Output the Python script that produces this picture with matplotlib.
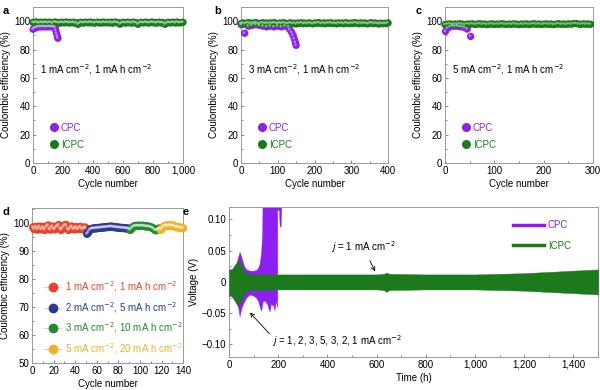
import numpy as np
import matplotlib
matplotlib.use("Agg")
import matplotlib.pyplot as plt
from matplotlib.lines import Line2D
from matplotlib.ticker import MultipleLocator, FuncFormatter
import matplotlib.transforms as mtransforms

plt.rcParams['font.family'] = ['Liberation Sans', 'DejaVu Sans']
plt.rcParams['font.size'] = 7
plt.rcParams['axes.edgecolor'] = '#9a9a9a'
plt.rcParams['axes.linewidth'] = 0.7

# colours
purple = '#8e1ff2'
green = '#1c7a1c'
red = '#e8432a'
blue = '#2b3a94'
dgreen = '#218a2c'
orange = '#f4b024'

# ---- panel a: 1 mA cm-2, 1 mA h cm-2 ----
a_icpc_cycle = np.arange(0, 1001, 10)
a_icpc_ce = [99.2, 98.8, 99.5, 99.0, 98.6, 99.3, 99.1, 98.7, 99.4, 99.0,
             98.8, 99.3, 99.0, 98.5, 99.2, 99.4, 98.9, 99.1, 98.6, 99.3,
             99.0, 98.8, 99.4, 99.1, 98.7, 99.2, 98.9, 99.3, 98.6, 99.0,
             97.8, 98.4, 99.2, 99.0, 98.7, 99.3, 99.1, 98.8, 99.4, 98.9,
             99.2, 98.6, 99.0, 99.3, 98.8, 99.1, 98.7, 99.4, 99.0, 98.9,
             99.2, 98.8, 99.3, 98.6, 99.1, 99.4, 98.9, 99.0, 97.9, 98.5,
             99.2, 99.0, 98.7, 99.3, 98.9, 99.1, 98.6, 99.4, 99.0, 98.8,
             97.8, 98.6, 99.2, 99.0, 98.8, 99.3, 99.1, 98.7, 99.0, 99.4,
             98.9, 99.2, 98.6, 99.0, 99.3, 98.8, 99.1, 98.7, 97.8, 98.5,
             99.2, 99.0, 98.8, 99.3, 99.1, 98.7, 99.4, 99.0, 98.8, 99.1, 99.2]
a_cpc_cycle = [1, 10, 20, 30, 40, 50, 60, 70, 80, 90, 100, 110, 120, 130,
               140, 148, 152, 157, 162, 166]
a_cpc_ce = [94.3, 95.0, 95.5, 96.0, 96.0, 96.2, 96.0, 96.3, 96.0, 96.2,
            96.0, 96.3, 96.0, 96.2, 96.0, 95.5, 93.5, 91.5, 89.5, 88.0]

# ---- panel b: 3 mA cm-2 ----
b_icpc_cycle = np.arange(0, 401, 5)
b_icpc_ce = [98.3, 98.8, 98.0, 98.6, 99.0, 98.2, 98.7, 98.4, 99.1, 98.5,
             98.0, 98.6, 98.9, 98.3, 98.7, 98.1, 98.8, 98.4, 99.0, 98.5,
             98.2, 98.7, 98.3, 98.9, 98.6, 98.1, 98.5, 98.8, 98.3, 98.6,
             98.0, 98.7, 98.4, 98.9, 98.2, 98.6, 98.3, 98.8, 98.5, 98.1,
             98.7, 98.4, 99.0, 98.6, 98.3, 98.8, 98.2, 98.7, 98.5, 98.9,
             98.3, 98.6, 98.1, 98.8, 98.4, 98.7, 98.2, 98.9, 98.5, 98.3,
             98.7, 98.4, 99.0, 98.6, 98.2, 98.8, 98.3, 98.7, 98.5, 98.1,
             98.6, 98.9, 98.3, 98.7, 98.4, 98.0, 98.6, 98.2, 98.5, 98.3, 98.8]
b_cpc_cycle = [1, 10, 20, 30, 40, 50, 60, 70, 80, 90, 100, 110, 120, 130,
               133, 138, 142, 145, 148, 150]
b_cpc_ce = [97.5, 91.5, 96.5, 97.0, 97.5, 97.0, 96.5, 96.0, 96.5, 96.0,
            96.5, 96.0, 96.5, 96.0, 94.0, 92.0, 90.0, 87.5, 85.0, 83.0]

# ---- panel c: 5 mA cm-2 ----
c_icpc_cycle = np.arange(0, 296, 5)
c_icpc_ce = [97.6, 97.9, 98.1, 97.7, 98.0, 97.8, 98.2, 97.9, 97.6, 98.0,
             97.8, 98.1, 97.7, 97.9, 98.2, 97.8, 98.0, 97.6, 97.9, 98.1,
             97.7, 98.0, 97.8, 98.2, 97.9, 97.7, 98.0, 97.8, 98.1, 97.9,
             97.6, 98.0, 97.8, 98.1, 97.7, 97.9, 98.2, 97.8, 98.0, 97.7,
             97.9, 98.1, 97.8, 98.0, 97.6, 97.9, 98.2, 97.8, 98.0, 97.7,
             98.1, 97.9, 98.2, 98.4, 98.0, 97.8, 98.1, 97.9, 98.0, 97.8]
c_cpc_cycle = [1, 5, 10, 15, 20, 25, 30, 35, 40, 45, 52]
c_cpc_ce = [92.8, 95.0, 96.0, 96.5, 96.5, 96.5, 96.2, 96.0, 95.5, 94.5, 89.3]

# ---- panel d: rate steps ----
d_labels = [r'1 mA cm$^{-2}$, 1 mA h cm$^{-2}$',
            r'2 mA cm$^{-2}$, 5 mA h cm$^{-2}$',
            r'3 mA cm$^{-2}$, 10 mA h cm$^{-2}$',
            r'5 mA cm$^{-2}$, 20 mA h cm$^{-2}$']
d_cycles = [np.arange(1, 51), np.arange(51, 91), np.arange(91, 119), np.arange(119, 141)]
d_ce1 = [98.6, 97.9, 98.4, 98.8, 97.7, 98.3, 98.9, 98.0, 97.8, 98.7,
         98.2, 97.6, 98.5, 99.0, 99.3, 98.1, 97.7, 98.6, 98.9, 98.0,
         97.8, 98.4, 98.8, 99.2, 99.4, 98.3, 97.6, 98.0, 98.7, 99.1,
         99.5, 99.3, 98.2, 97.6, 97.9, 98.6, 98.9, 98.1, 97.8, 98.4,
         98.7, 98.0, 97.9, 98.5, 98.8, 98.1, 97.8, 98.3, 98.6, 98.2]
d_ce2 = [96.2, 96.6, 97.3, 97.8, 98.0, 98.1, 98.2, 98.1, 98.3, 98.2,
         98.4, 98.3, 98.4, 98.5, 98.4, 98.6, 98.5, 98.6, 98.7, 98.6,
         98.8, 98.7, 98.9, 98.7, 98.8, 98.6, 98.7, 98.5, 98.6, 98.4,
         98.5, 98.4, 98.3, 98.4, 98.3, 98.2, 98.3, 98.1, 98.2, 98.0]
d_ce3 = [97.6, 98.0, 98.5, 98.8, 99.0, 99.1, 99.0, 99.2, 99.1, 99.0,
         99.1, 99.2, 99.1, 99.0, 98.9, 99.0, 98.8, 98.9, 98.7, 98.6,
         98.5, 98.3, 98.0, 97.6, 97.5, 97.7, 98.0, 98.2]
d_ce4 = [97.6, 97.9, 98.4, 98.8, 99.1, 99.2, 99.3, 99.0, 99.2, 99.4,
         99.1, 99.0, 99.3, 98.9, 98.7, 98.5, 98.8, 98.6, 98.4, 98.2, 98.5, 98.3]
d_ces = [d_ce1, d_ce2, d_ce3, d_ce4]
d_colors = [red, blue, dgreen, orange]

# ---- panel e: voltage envelopes ----
e_icpc_t = [0, 5, 10, 15, 20, 25, 30, 35, 40, 45, 50, 55, 60, 65, 70, 80, 100,
            200, 400, 600, 630, 640, 650, 800, 1000, 1100, 1200, 1300, 1400, 1500]
e_icpc_hi = [0.02, 0.02, 0.018, 0.02, 0.025, 0.028, 0.03, 0.034, 0.036, 0.03,
             0.027, 0.022, 0.018, 0.016, 0.014, 0.013, 0.012, 0.012, 0.012, 0.012,
             0.013, 0.015, 0.013, 0.012, 0.012, 0.013, 0.014, 0.016, 0.018, 0.02]
e_icpc_lo = [-0.022, -0.022, -0.02, -0.022, -0.027, -0.03, -0.033, -0.036, -0.04, -0.033,
             -0.028, -0.024, -0.02, -0.017, -0.015, -0.014, -0.013, -0.012, -0.012, -0.012,
             -0.013, -0.016, -0.013, -0.012, -0.012, -0.013, -0.014, -0.016, -0.018, -0.02]
e_cpc_t = [0, 8, 16, 23, 30, 37, 43, 50, 57, 63, 70, 84, 100, 110, 118, 125, 131,
           135, 138, 145, 155, 160, 165, 170, 180, 185, 190, 196]
e_cpc_hi = [0.02, 0.02, 0.022, 0.026, 0.03, 0.04, 0.048, 0.04, 0.03, 0.024, 0.02,
            0.018, 0.018, 0.019, 0.022, 0.03, 0.05, 0.08, 0.2, 0.2, 0.2, 0.2, 0.2,
            0.2, 0.2, 0.2, 0.2, 0.2]
e_cpc_lo = [-0.022, -0.022, -0.026, -0.03, -0.035, -0.04, -0.055, -0.042, -0.035, -0.03,
            -0.025, -0.02, -0.022, -0.025, -0.03, -0.04, -0.046, -0.035, -0.03, -0.03,
            -0.035, -0.042, -0.047, -0.035, -0.038, -0.045, -0.03, -0.04]
e_spike_t = [196, 203, 206, 210, 212]
e_spike_lo = [0.115, 0.115, 0.088, 0.09, 0.115]


def comma(v, pos):
    return '{:,.0f}'.format(v)


def style(ax):
    ax.tick_params(which='both', direction='in', length=2.5, width=0.6,
                   color='#777777', labelsize=7, pad=2)
    ax.tick_params(which='minor', length=1.5)


def balls(ax, x, y, c, s=20):
    ax.scatter(x, y, s=s, color=c, edgecolors='none', zorder=3, clip_on=False)
    off = mtransforms.offset_copy(ax.transData, fig=fig, x=-0.5, y=0.5, units='points')
    ax.scatter(x, y, s=s * 0.12, color='white', alpha=0.45, edgecolors='none',
               zorder=4, transform=off, clip_on=False)


fig = plt.figure(figsize=(6, 3.9), dpi=100)

top_axes = []
for left, width in [(0.055, 0.25), (0.4017, 0.245), (0.7417, 0.2467)]:
    top_axes.append(fig.add_axes([left, 0.582, width, 0.4]))

ce_sets = [(a_icpc_cycle, a_icpc_ce, a_cpc_cycle, a_cpc_ce, 1000, 200, 100, '1'),
           (b_icpc_cycle, b_icpc_ce, b_cpc_cycle, b_cpc_ce, 400, 100, 50, '3'),
           (c_icpc_cycle, c_icpc_ce, c_cpc_cycle, c_cpc_ce, 300, 100, 50, '5')]

for ax, (xi, yi, xc, yc, xmax, maj, mnr, rate) in zip(top_axes, ce_sets):
    balls(ax, xc, yc, purple, s=28)
    balls(ax, xi, yi, green, s=28)
    ax.set_xlim(0, xmax)
    ax.set_ylim(0, 110)
    ax.xaxis.set_major_locator(MultipleLocator(maj))
    ax.xaxis.set_minor_locator(MultipleLocator(mnr))
    ax.xaxis.set_major_formatter(FuncFormatter(comma))
    ax.yaxis.set_major_locator(MultipleLocator(20))
    ax.yaxis.set_minor_locator(MultipleLocator(10))
    ax.set_xlabel('Cycle number', labelpad=2)
    ax.set_ylabel('Coulombic efficiency (%)', labelpad=2)
    ax.text(0.05, 0.6, rate + r' mA cm$^{-2}$, 1 mA h cm$^{-2}$',
            transform=ax.transAxes, va='center', ha='left', fontsize=7)
    h1 = Line2D([], [], marker='o', ls='none', color=purple, markersize=5.5)
    h2 = Line2D([], [], marker='o', ls='none', color=green, markersize=5.5)
    leg = ax.legend([h1, h2], ['CPC', 'ICPC'], loc='lower left',
                    bbox_to_anchor=(0.05, 0.03), frameon=False, handletextpad=0.2,
                    handlelength=1.0, labelspacing=0.7, fontsize=7)
    for t, c in zip(leg.get_texts(), [purple, green]):
        t.set_color(c)
    style(ax)

# panel d
axd = fig.add_axes([0.0533, 0.069, 0.252, 0.397])
for cyc, ce, col in zip(d_cycles, d_ces, d_colors):
    balls(axd, cyc, ce, col, s=34)
axd.set_xlim(0, 140)
axd.set_ylim(50, 105.4)
axd.xaxis.set_major_locator(MultipleLocator(20))
axd.xaxis.set_minor_locator(MultipleLocator(10))
axd.yaxis.set_major_locator(MultipleLocator(10))
axd.yaxis.set_minor_locator(MultipleLocator(5))
axd.set_xlabel('Cycle number', labelpad=2)
axd.set_ylabel('Coulombic efficiency (%)', labelpad=2)
handles = [Line2D([], [], marker='o', color='#cccccc', lw=0.6, markerfacecolor=c,
                  markeredgecolor=c, markersize=6) for c in d_colors]
leg = axd.legend(handles, d_labels, loc='lower left', bbox_to_anchor=(0.02, -0.01),
                 frameon=False, handletextpad=0.4, handlelength=1.8,
                 labelspacing=0.6, fontsize=7)
for t, c in zip(leg.get_texts(), d_colors):
    t.set_color(c)
style(axd)

# panel e
axe = fig.add_axes([0.3817, 0.0846, 0.615, 0.385])
axe.fill_between(e_cpc_t, e_cpc_lo, e_cpc_hi, color=purple, lw=0.3, zorder=2)
axe.fill_between(e_spike_t, e_spike_lo, 0.2, color=purple, lw=0.3, zorder=2)
axe.fill_between(e_icpc_t, e_icpc_lo, e_icpc_hi, color=green, lw=0.3, zorder=3)
axe.set_xlim(0, 1500)
axe.set_ylim(-0.12, 0.12)
axe.xaxis.set_major_locator(MultipleLocator(200))
axe.xaxis.set_minor_locator(MultipleLocator(100))
axe.xaxis.set_major_formatter(FuncFormatter(comma))
axe.yaxis.set_major_locator(MultipleLocator(0.05))
axe.yaxis.set_minor_locator(MultipleLocator(0.025))
axe.yaxis.set_major_formatter(FuncFormatter(
    lambda v, p: '0' if abs(v) < 1e-9 else '{:.2f}'.format(v).replace('-', '\u2212')))
axe.set_xlabel('Time (h)', labelpad=2)
axe.set_ylabel('Voltage (V)', labelpad=2)
hl = [Line2D([], [], color=purple, lw=2.5), Line2D([], [], color=green, lw=2.5)]
leg = axe.legend(hl, ['CPC', 'ICPC'], loc='upper right', bbox_to_anchor=(0.95, 0.97),
                 frameon=False, handlelength=3.2, handletextpad=0.4,
                 labelspacing=1.1, fontsize=7)
for t, c in zip(leg.get_texts(), [purple, green]):
    t.set_color(c)
axe.annotate(r'$j$ = 1 mA cm$^{-2}$', xy=(594, 0.017), xytext=(545, 0.055),
             ha='center', va='center', fontsize=7,
             arrowprops=dict(arrowstyle='->', color='black', lw=0.6, shrinkA=2, shrinkB=0))
axe.annotate(r'$j$ = 1, 2, 3, 5, 3, 2, 1 mA cm$^{-2}$', xy=(85, -0.049),
             xytext=(175, -0.095), ha='left', va='center', fontsize=7,
             arrowprops=dict(arrowstyle='->', color='black', lw=0.6, shrinkA=0, shrinkB=0,
                             relpos=(0.0, 0.8)))
style(axe)

# panel letters
for lab, x, y in [('a', 0.004, 0.985), ('b', 0.357, 0.985), ('c', 0.693, 0.985),
                  ('d', 0.004, 0.468), ('e', 0.304, 0.468)]:
    fig.text(x, y, lab, fontsize=8, fontweight='bold', va='top', ha='left')

fig.savefig('out.png', dpi=100)
